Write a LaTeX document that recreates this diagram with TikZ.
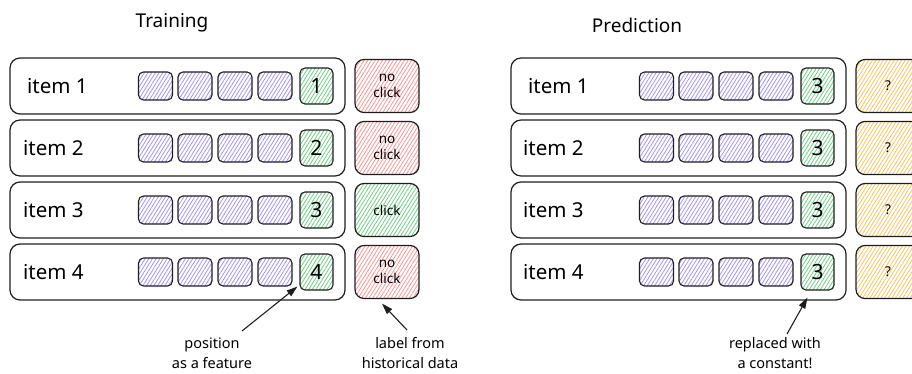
\documentclass[tikz,border=0pt]{standalone}
\usepackage{fontspec}
\setmainfont{Noto Sans}
\usetikzlibrary{patterns.meta,arrows.meta}

\definecolor{ink}{HTML}{1E1E1E}
\definecolor{featc}{HTML}{A593F7}
\definecolor{posc}{HTML}{6FD083}
\definecolor{negc}{HTML}{FF9494}
\definecolor{unkc}{HTML}{FBC45E}

\tikzset{
  hatched/.style={pattern={Lines[angle=58,distance=3.1pt,line width=0.8pt]}, pattern color=#1},
  rowbox/.style={draw=ink, line width=1.2pt, rounded corners=10pt,
    minimum width=335pt, minimum height=56pt, inner sep=0pt},
  featbox/.style={draw=ink, line width=1.1pt, rounded corners=5pt,
    minimum width=34pt, minimum height=28pt, inner sep=0pt, hatched=featc},
  posbox/.style={draw=ink, line width=1.1pt, rounded corners=5pt,
    minimum width=33pt, minimum height=36pt, inner sep=0pt, hatched=posc,
    font=\fontsize{21}{21}\selectfont},
  lblbox/.style={draw=ink, line width=1.2pt, rounded corners=9pt,
    minimum width=64pt, minimum height=53pt, inner sep=0pt, align=center,
    font=\fontsize{13.5}{16}\selectfont, hatched=#1},
  itemlbl/.style={anchor=west, inner sep=0pt, font=\fontsize{20.5}{20}\selectfont},
  title/.style={font=\fontsize{19}{19}\selectfont},
  note/.style={align=center, inner sep=0pt, font=\fontsize{14.5}{20}\selectfont},
  arr/.style={draw=ink, line width=1.1pt, -{Triangle[length=11pt,width=7pt]}},
}

\begin{document}
\begin{tikzpicture}[x=1pt,y=-1pt]
\useasboundingbox (0,0) rectangle (912,374);
\clip (0,0) rectangle (912,374);

% titles
\node[title] (ttrain) at (172,23) {Training};
\node[title] (tpred) at (637,25) {Prediction};

% training rows: item, four feature cells, position cell, click label
\foreach \r/\y/\lx/\lab/\lc in {1/86/27/{no\\click}/negc, 2/148/23/{no\\click}/negc,
                                3/210/23/{click}/posc, 4/272/23/{no\\click}/negc} {
  \node[rowbox] (tr\r) at (177.5,\y) {};
  \node[itemlbl] (ti\r) at (\lx,\y) {item \r};
  \foreach \k/\x in {1/155.5,2/195,3/235,4/275}
    \node[featbox] (tf\r\k) at (\x,\y) {};
  \node[posbox] (tp\r) at (316.5,\y) {\r};
  \node[lblbox=\lc] (tl\r) at (387,\y) {\lab};
}

% prediction rows: position fixed to a constant, unknown outcome
\foreach \r/\y/\lx in {1/86/528, 2/148/523, 3/210/523, 4/272/523} {
  \node[rowbox] (pr\r) at (678.5,\y) {};
  \node[itemlbl] (pi\r) at (\lx,\y) {item \r};
  \foreach \k/\x in {1/656.5,2/696,3/736,4/776}
    \node[featbox] (pf\r\k) at (\x,\y) {};
  \node[posbox] (pp\r) at (817.5,\y) {3};
  \node[lblbox=unkc] (pl\r) at (888,\y) {?};
}

% annotations
\node[note] (n1) at (212,353) {position\\as a feature};
\node[note] (n2) at (410,353) {label from\\historical data};
\node[note] (n3) at (775,353) {replaced with\\a constant!};

\coordinate (a1) at (242,331);
\coordinate (a2) at (407,330);
\coordinate (a3) at (787,334);

\draw[arr] (a1) -- ([xshift=-2pt,yshift=4pt]tp4.south west);
\draw[arr] (a2) -- ([xshift=-5pt,yshift=-4.5pt]tl4.south);
\draw[arr] (a3) -- ([xshift=7pt,yshift=-7pt]pp4.south west);
\end{tikzpicture}
\end{document}
